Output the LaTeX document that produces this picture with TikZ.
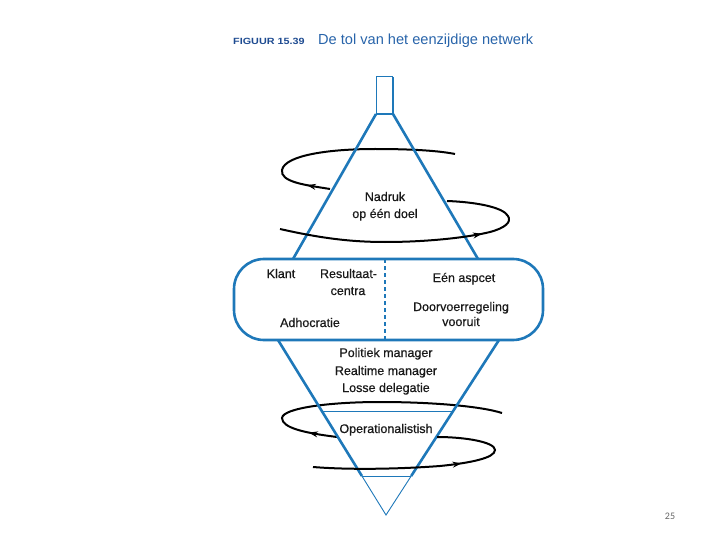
\documentclass[tikz,border=0pt]{standalone}
\usepackage{fontspec}
\setmainfont{Liberation Sans}
\newfontfamily\pagenumfont{Carlito}
\newfontfamily\lblfont[FakeBold=0.6]{Liberation Sans}
\usetikzlibrary{arrows.meta,decorations.markings}
\definecolor{topblue}{RGB}{30,120,185}
\definecolor{titleblue}{RGB}{40,100,170}
\definecolor{figblue}{RGB}{30,75,145}
\definecolor{txt}{RGB}{25,25,25}
\begin{document}
\begin{tikzpicture}[x=1pt,y=-1pt,
  blueline/.style={draw=topblue, line width=2.6pt},
  thinblue/.style={draw=topblue, line width=0.9pt},
  spiral/.style={draw=black, line width=2pt},
  lbl/.style={text=txt, font=\lblfont\fontsize{12.5}{14}\selectfont, inner sep=0pt},
  midarrow/.style={postaction={decorate}, decoration={markings, mark=at position #1 with {\arrow{Stealth[length=9pt,width=6pt]}}}}
]
\useasboundingbox (0,0) rectangle (720,540);

% geometry
\coordinate (stemBL) at (376,114);
\coordinate (stemBR) at (393,114);
\coordinate (stemTL) at (376,77);
\coordinate (stemTR) at (393,77);
\coordinate (upL) at (293,259);
\coordinate (upR) at (478,259);
\coordinate (loL) at (278,340);
\coordinate (loR) at (499,340);
\coordinate (apex) at (386,515);
\coordinate (midL) at (361.9,476);
\coordinate (midR) at (411.2,476);
\coordinate (hiL) at (321.8,411);
\coordinate (hiR) at (453.1,411);
\coordinate (dT) at (385,259);
\coordinate (dB) at (385,340);

% spiral parts behind the cone
\coordinate (sA0) at (330,189);
\coordinate (sA1) at (282,170);
\coordinate (sA2) at (455,154);
\draw[spiral, midarrow=0.1] (sA0) .. controls (305,185) and (280,182) .. (sA1)
   .. controls (285,155) and (330,149) .. (375,149)
   .. controls (415,149) and (440,151) .. (sA2);
\coordinate (sC0) at (337,437);
\coordinate (sC1) at (282,418);
\coordinate (sC2) at (502,413);
\draw[spiral, midarrow=0.1] (sC0) .. controls (305,433) and (282,428) .. (sC1)
   .. controls (283,408) and (330,402) .. (380,402)
   .. controls (430,402) and (480,406) .. (sC2);

% cone
\draw[blueline] (stemBL) -- (upL);
\draw[blueline] (stemBR) -- (upR);
\draw[blueline] (loL) -- (midL);
\draw[blueline] (loR) -- (midR);
\draw[thinblue] (midL) -- (apex) -- (midR);
\draw[thinblue] (hiL) -- (hiR);
\draw[thinblue] (midL) -- (midR);
\draw[draw=topblue, line width=1pt] (stemBL) -- (stemTL) -- (stemTR);
\draw[draw=topblue, line width=2.2pt] (stemTR) -- (stemBR) -- (stemBL);
\node[draw=topblue, line width=2.6pt, rounded corners=30pt, minimum width=309pt,
      minimum height=81pt, inner sep=0pt] (capsule) at (388.5,299.5) {};
\draw[draw=topblue, line width=2.6pt, dash pattern=on 4pt off 3pt] (dT) -- (dB);

% spiral parts in front
\coordinate (sB0) at (280,229);
\coordinate (sB1) at (447,201);
\draw[spiral, midarrow=0.67] (sB0) .. controls (320,238) and (350,242) .. (385,242)
   .. controls (430,242) and (470,237) .. (490,232)
   .. controls (505,228) and (512,222) .. (508,216)
   .. controls (503,207) and (475,202) .. (sB1);
\coordinate (sD0) at (313,467);
\coordinate (sD1) at (437,437);
\draw[spiral, midarrow=0.6] (sD0) .. controls (350,470) and (400,469) .. (440,466)
   .. controls (470,463) and (495,458) .. (495,450)
   .. controls (495,442) and (465,437) .. (sD1);

% title
\node[anchor=base west, inner sep=0pt, text=figblue,
      font=\addfontfeature{FakeStretch=1.2}\bfseries\fontsize{9}{10}\selectfont] (fig) at (233,45) {FIGUUR 15.39};
\node[anchor=base west, inner sep=0pt, text=titleblue, font=\fontsize{14.6}{16}\selectfont] (title) at (318,45) {De tol van het eenzijdige netwerk};

% labels
\node[lbl, anchor=base] (nadruk) at (385,201) {Nadruk};
\node[lbl, anchor=base] (doel) at (385,218) {op één doel};
\node[lbl, anchor=base] (klant) at (281,278) {Klant};
\node[lbl, anchor=base] (result) at (348.5,278) {Resultaat-};
\node[lbl, anchor=base] (centra) at (348,295) {centra};
\node[lbl, anchor=base] (adhoc) at (310,327) {Adhocratie};
\node[lbl, anchor=base] (aspect) at (464,282) {Eén aspcet};
\node[lbl, anchor=base] (doorv) at (461,311) {Doorvoerregeling};
\node[lbl, anchor=base] (vooruit) at (461,326) {vooruit};
\node[lbl, anchor=base] (polit) at (386,357) {Politiek manager};
\node[lbl, anchor=base] (realt) at (386,375) {Realtime manager};
\node[lbl, anchor=base] (losse) at (386,392) {Losse delegatie};
\node[lbl, anchor=base] (oper) at (386,433) {Operationalistish};

\node[anchor=base, inner sep=0pt, text=black!60, font=\pagenumfont\fontsize{10}{12}\selectfont] (pnum) at (670,519) {25};
\end{tikzpicture}
\end{document}
